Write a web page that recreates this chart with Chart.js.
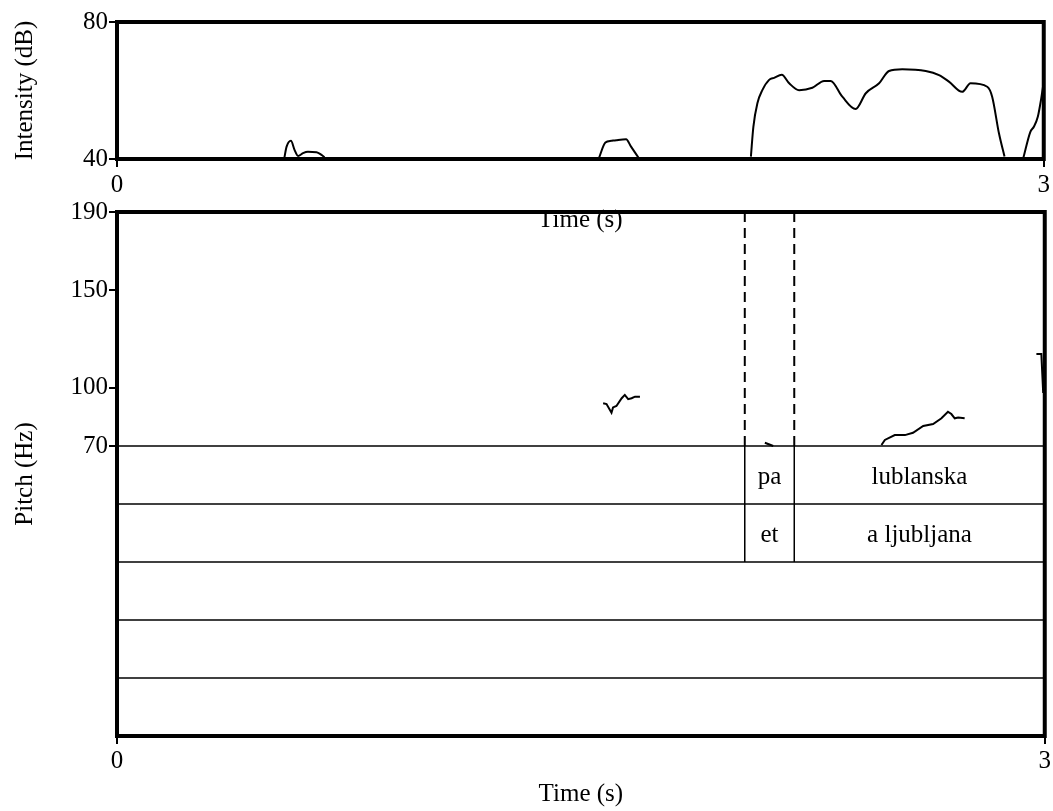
<!DOCTYPE html>
<html>
<head>
<meta charset="utf-8">
<script src="https://cdn.jsdelivr.net/npm/chart.js@4.4.1/dist/chart.umd.min.js"></script>
<style>
  body { margin: 0; background: #fff; }
  #wrap { position: relative; width: 1053px; height: 811px; }
  #pitchChart { position: absolute; left: 0; top: 195px; }
  #intensityChart { position: absolute; left: 0; top: 0; }
</style>
</head>
<body>
<div id="wrap">
  <canvas id="pitchChart" width="1053" height="616"></canvas>
  <canvas id="intensityChart" width="1053" height="250"></canvas>
</div>
<script>
// intensity contour (s, dB), null = break
const intensityTime = [
  0.541, 0.549, 0.563, 0.575, 0.586, 0.602, 0.618, 0.646, 0.662, 0.672, null,
  1.559, 1.581, 1.600, 1.616, 1.648, 1.664, 1.691, null,
  2.052, 2.060, 2.073, 2.089, 2.111, 2.127, 2.152, 2.176, 2.208, 2.251, 2.289, 2.310,
  2.348, 2.391, 2.424, 2.467, 2.499, 2.542, 2.618, 2.661, 2.693, 2.736, 2.763, 2.817,
  2.833, 2.855, 2.873, null,
  2.933, 2.957, 2.968, 2.981, 2.991, 3.0
];
const intensityDb = [
  40, 43.6, 45.3, 42.6, 40.9, 41.7, 42.1, 42.0, 41.2, 40.5, null,
  40, 44.8, 45.3, 45.5, 45.75, 43.6, 40, null,
  40.7, 49.4, 56.3, 60.1, 63.1, 63.7, 64.6, 62.1, 60.1, 60.8, 62.8, 62.8,
  58.2, 54.6, 59.2, 62.1, 65.7, 66.2, 65.7, 64.5, 62.6, 59.6, 62.1, 61.1,
  58.2, 47.5, 40.7, null,
  40, 48.0, 49.4, 52.4, 57.2, 62.6
];

// pitch contour (s, Hz), null = unvoiced
const pitchTime = [
  1.572, 1.583, 1.599, 1.604, 1.615, 1.632, 1.642, 1.653, 1.664, 1.675, 1.691, null,
  2.095, 2.122, null,
  2.472, 2.483, 2.515, 2.548, 2.574, 2.607, 2.639, 2.666, 2.687, 2.698, 2.709, 2.720, 2.741, null,
  2.973, 2.989, 2.995
];
const pitchHz = [
  91.9, 91.5, 87.1, 89.8, 90.5, 94.5, 96.2, 94.0, 94.5, 95.3, 95.3, null,
  71.7, 70, null,
  70.5, 73.1, 75.6, 75.6, 76.8, 80.3, 81.3, 84.2, 87.6, 86.4, 84.2, 84.6, 84.2, null,
  117.2, 117.2, 97.2
];

// text grid
const tierCount = 5;
const boundaries = [2.030, 2.190];
const tier1Labels = ["", "pa", "lublanska"];
const tier2Labels = ["", "et", "a ljubljana"];

const timeTicks = [0, 3];
const intensityTicks = [40, 80];
const pitchTicks = [190, 150, 100, 70];

const PITCH_MIN = 70, PITCH_MAX = 190;
const TIER_H = 29.74; // tier height in Hz units of the pitch axis
const yBottom = PITCH_MIN - tierCount * TIER_H;

const FONT = { family: "'Liberation Serif', 'Times New Roman', serif", size: 25 };
Chart.defaults.font.family = FONT.family;
Chart.defaults.font.size = FONT.size;
Chart.defaults.color = "#000";

function toPoints(xs, ys) {
  return xs.map((x, i) => (x === null ? { x: NaN, y: null } : { x: x, y: ys[i] }));
}

const framePlugin = {
  id: "frame",
  afterDatasetsDraw(chart) {
    const a = chart.chartArea, ctx = chart.ctx;
    ctx.save();
    ctx.strokeStyle = "#000";
    ctx.lineWidth = 4;
    ctx.strokeRect(a.left, a.top, a.right - a.left, a.bottom - a.top);
    ctx.restore();
  }
};

const tierTextPlugin = {
  id: "tierText",
  afterDatasetsDraw(chart) {
    const xs = chart.scales.x, ys = chart.scales.y, ctx = chart.ctx;
    const edges = [0].concat(boundaries, [3]);
    ctx.save();
    ctx.fillStyle = "#000";
    ctx.font = FONT.size + "px " + FONT.family;
    ctx.textAlign = "center";
    ctx.textBaseline = "middle";
    [tier1Labels, tier2Labels].forEach((labels, k) => {
      const yc = ys.getPixelForValue(PITCH_MIN - (k + 0.5) * TIER_H);
      labels.forEach((txt, i) => {
        if (!txt) return;
        const xc = (xs.getPixelForValue(edges[i]) + xs.getPixelForValue(edges[i + 1])) / 2;
        ctx.fillText(txt, xc, yc + 2);
      });
    });
    ctx.restore();
  }
};

function xAxis(height, tickPad, titlePad) {
  return {
    type: "linear", min: 0, max: 3,
    afterBuildTicks: (s) => { s.ticks = timeTicks.map(v => ({ value: v })); },
    afterFit: (s) => { s.height = height; },
    ticks: { padding: tickPad, maxRotation: 0, autoSkip: false },
    grid: { drawOnChartArea: false, drawTicks: true, tickLength: 8, lineWidth: 2, color: "#000" },
    border: { display: false },
    title: { display: true, text: "Time (s)", padding: { top: 0, bottom: titlePad } }
  };
}

function yAxis(min, max, ticks, title) {
  return {
    type: "linear", min: min, max: max,
    afterBuildTicks: (s) => { s.ticks = ticks.map(v => ({ value: v })); },
    afterFit: (s) => { s.width = 117; },
    ticks: { padding: 1 },
    grid: { drawOnChartArea: false, drawTicks: true, tickLength: 8, lineWidth: 2, color: "#000" },
    border: { display: false },
    title: { display: true, text: title, padding: { top: 10, bottom: 0 } }
  };
}

new Chart(document.getElementById("intensityChart"), {
  type: "line",
  data: {
    datasets: [{
      data: toPoints(intensityTime, intensityDb),
      borderColor: "#000", borderWidth: 2, pointRadius: 0,
      cubicInterpolationMode: "monotone", spanGaps: false
    }]
  },
  options: {
    responsive: false, animation: false,
    layout: { padding: { left: 0, top: 22, right: 8, bottom: 0 } },
    plugins: { legend: { display: false }, tooltip: { enabled: false } },
    scales: {
      x: xAxis(91, 3, 15),
      y: yAxis(40, 80, intensityTicks, "Intensity (dB)")
    }
  },
  plugins: [framePlugin]
});

// pitch + text grid
const pitchDatasets = [{
  data: toPoints(pitchTime, pitchHz),
  borderColor: "#000", borderWidth: 2, pointRadius: 0, tension: 0, spanGaps: false
}];
for (let k = 0; k < tierCount; k++) {
  const y = PITCH_MIN - k * TIER_H;
  pitchDatasets.push({
    data: [{ x: 0, y: y }, { x: 3, y: y }],
    borderColor: "#000", borderWidth: 1.5, pointRadius: 0
  });
}
boundaries.forEach((b) => {
  pitchDatasets.push({
    data: [{ x: b, y: PITCH_MAX }, { x: b, y: PITCH_MIN }],
    borderColor: "#000", borderWidth: 2, borderDash: [10, 6], pointRadius: 0
  });
  pitchDatasets.push({
    data: [{ x: b, y: PITCH_MIN }, { x: b, y: PITCH_MIN - 2 * TIER_H }],
    borderColor: "#000", borderWidth: 1.5, pointRadius: 0
  });
});

new Chart(document.getElementById("pitchChart"), {
  type: "line",
  data: { datasets: pitchDatasets },
  options: {
    responsive: false, animation: false,
    layout: { padding: { left: 0, top: 17, right: 8, bottom: 0 } },
    plugins: { legend: { display: false }, tooltip: { enabled: false } },
    scales: {
      x: xAxis(75, 2, 2),
      y: yAxis(yBottom, PITCH_MAX, pitchTicks, "Pitch (Hz)")
    }
  },
  plugins: [framePlugin, tierTextPlugin]
});
</script>
</body>
</html>
